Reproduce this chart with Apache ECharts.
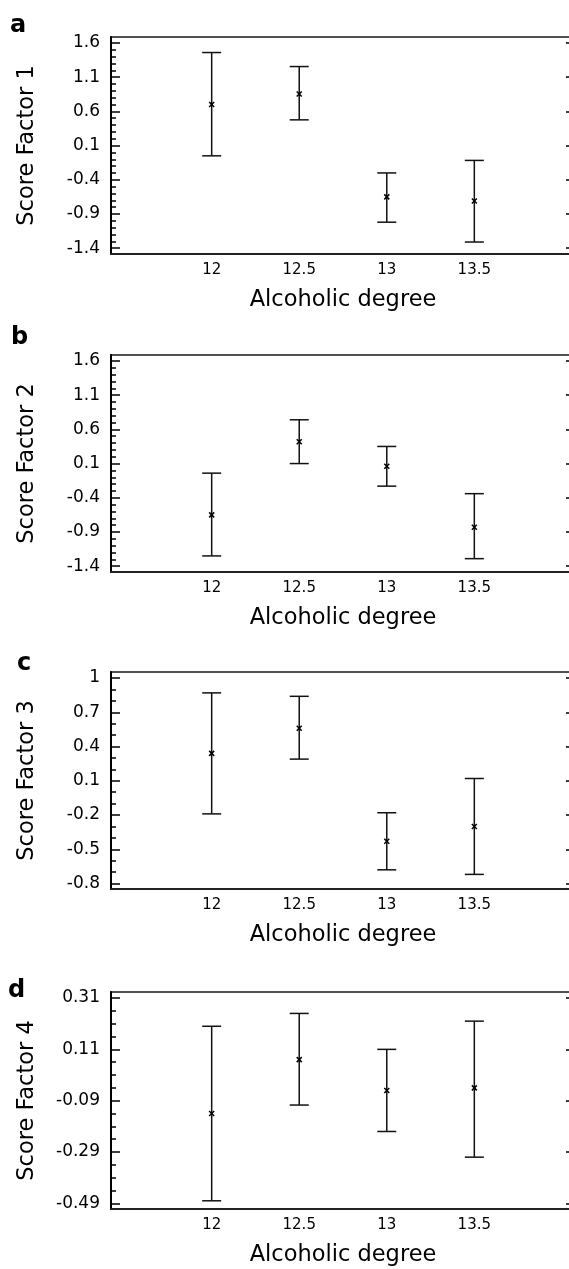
<!DOCTYPE html>
<html>
<head>
    <meta charset="utf-8">
    <title>Score factors vs alcoholic degree</title>
    <script src="https://cdn.jsdelivr.net/npm/echarts@6/dist/echarts.min.js"></script>
    <style>
        html, body { margin: 0; padding: 0; background: #fff; }
        #main { width: 569px; height: 1269px; }
    </style>
</head>
<body>
<div id="main"></div>
<script>
    // data
    var degrees = [12, 12.5, 13, 13.5];
    var xTicks = [12, 12.5, 13, 13.5];

    var f1Mean = [0.70, 0.855, -0.65, -0.71];
    var f1Low  = [-0.05, 0.476, -1.02, -1.31];
    var f1High = [1.46, 1.255, -0.30, -0.117];
    var f1Ticks = [-1.4, -0.9, -0.4, 0.1, 0.6, 1.1, 1.6];

    var f2Mean = [-0.65, 0.42, 0.06, -0.83];
    var f2Low  = [-1.25, 0.10, -0.23, -1.29];
    var f2High = [-0.04, 0.74, 0.35, -0.34];
    var f2Ticks = [-1.4, -0.9, -0.4, 0.1, 0.6, 1.1, 1.6];

    var f3Mean = [0.34, 0.56, -0.43, -0.30];
    var f3Low  = [-0.19, 0.29, -0.68, -0.72];
    var f3High = [0.87, 0.84, -0.18, 0.12];
    var f3Ticks = [-0.8, -0.5, -0.2, 0.1, 0.4, 0.7, 1];

    var f4Mean = [-0.14, 0.07, -0.05, -0.04];
    var f4Low  = [-0.48, -0.107, -0.21, -0.31];
    var f4High = [0.20, 0.25, 0.11, 0.22];
    var f4Ticks = [-0.49, -0.29, -0.09, 0.11, 0.31];

    var font = 'DejaVu Sans';

    // panel layout
    var panels = [
        {letter: 'a', lx: 10, ly: 25, top: 37, min: -1.485, max: 1.687, minorStep: 0.1, name: 'Score Factor 1', mean: f1Mean, low: f1Low, high: f1High, ticks: f1Ticks},
        {letter: 'b', lx: 11, ly: 337, top: 355, min: -1.485, max: 1.687, minorStep: 0.1, name: 'Score Factor 2', mean: f2Mean, low: f2Low, high: f2High, ticks: f2Ticks},
        {letter: 'c', lx: 17, ly: 663, top: 672, min: -0.848, max: 1.053, minorStep: 0.1, name: 'Score Factor 3', mean: f3Mean, low: f3Low, high: f3High, ticks: f3Ticks},
        {letter: 'd', lx: 8, ly: 990, top: 992, min: -0.512, max: 0.3335, minorStep: 0.05, name: 'Score Factor 4', mean: f4Mean, low: f4Low, high: f4High, ticks: f4Ticks}
    ];

    function fmt(v) {
        return String(Math.round(v * 100) / 100);
    }

    function minorTicks(ticks, step) {
        var out = [];
        var a = ticks[0], b = ticks[ticks.length - 1];
        var n = Math.round((b - a) / step);
        for (var i = 0; i <= n; i++) {
            out.push(Math.round((a + i * step) * 1000) / 1000);
        }
        return out;
    }

    function renderErrorBar(params, api) {
        var lo = api.coord([api.value(0), api.value(1)]);
        var hi = api.coord([api.value(0), api.value(2)]);
        var m = api.coord([api.value(0), api.value(3)]);
        var cw = 9.5, s = 2.5;
        var st = {stroke: '#111', lineWidth: 1.5};
        return {
            type: 'group',
            children: [
                {type: 'line', shape: {x1: hi[0], y1: hi[1], x2: lo[0], y2: lo[1]}, style: st},
                {type: 'line', shape: {x1: hi[0] - cw, y1: hi[1], x2: hi[0] + cw, y2: hi[1]}, style: st},
                {type: 'line', shape: {x1: lo[0] - cw, y1: lo[1], x2: lo[0] + cw, y2: lo[1]}, style: st},
                {type: 'line', shape: {x1: m[0] - s, y1: m[1] - s, x2: m[0] + s, y2: m[1] + s}, style: {stroke: '#000', lineWidth: 1.5}},
                {type: 'line', shape: {x1: m[0] - s, y1: m[1] + s, x2: m[0] + s, y2: m[1] - s}, style: {stroke: '#000', lineWidth: 1.5}}
            ]
        };
    }

    var grids = [], xAxes = [], yAxes = [], series = [], graphics = [];

    panels.forEach(function (p, k) {
        grids.push({
            left: 111, right: -6, top: p.top, height: 217,
            outerBoundsMode: 'none', containLabel: false,
            show: true, borderColor: '#505050', borderWidth: 2, backgroundColor: 'transparent'
        });
        xAxes.push({
            type: 'value', gridIndex: k, min: 11.425, max: 14.075,
            name: 'Alcoholic degree', nameLocation: 'middle', nameGap: 35,
            nameTextStyle: {fontFamily: font, fontSize: 22.5, color: '#000'},
            axisLine: {onZero: false, lineStyle: {color: '#222', width: 2}},
            axisTick: {show: false},
            splitLine: {show: false},
            axisLabel: {customValues: xTicks, formatter: fmt, margin: 9, fontFamily: font, fontSize: 15, color: '#000'}
        });
        // major ticks + labels
        yAxes.push({
            type: 'value', gridIndex: k, position: 'left', min: p.min, max: p.max,
            name: p.name, nameLocation: 'middle', nameGap: 72,
            nameTextStyle: {fontFamily: font, fontSize: 22.5, color: '#000'},
            axisLine: {show: true, onZero: false, lineStyle: {color: '#000', width: 2}},
            axisTick: {show: true, inside: true, length: 9, customValues: p.ticks, lineStyle: {color: '#000', width: 1.5}},
            splitLine: {show: false},
            axisLabel: {customValues: p.ticks, formatter: fmt, margin: 11, fontFamily: font, fontSize: 17, color: '#000'}
        });
        // minor ticks
        yAxes.push({
            type: 'value', gridIndex: k, position: 'left', min: p.min, max: p.max,
            axisLine: {show: false},
            axisTick: {show: true, inside: true, length: 5, customValues: minorTicks(p.ticks, p.minorStep), lineStyle: {color: '#000', width: 1.5}},
            splitLine: {show: false},
            axisLabel: {show: false}
        });
        // right side ticks
        yAxes.push({
            type: 'value', gridIndex: k, position: 'right', min: p.min, max: p.max,
            axisLine: {show: true, onZero: false, lineStyle: {color: '#000', width: 2}},
            axisTick: {show: true, inside: true, length: 9, customValues: p.ticks, lineStyle: {color: '#000', width: 1.5}},
            splitLine: {show: false},
            axisLabel: {show: false}
        });

        var rows = degrees.map(function (d, i) {
            return [d, p.low[i], p.high[i], p.mean[i]];
        });
        series.push({
            type: 'custom',
            xAxisIndex: k,
            yAxisIndex: k * 3,
            renderItem: renderErrorBar,
            encode: {x: 0, y: [1, 2, 3]},
            data: rows,
            silent: true
        });

        graphics.push({
            type: 'text', left: p.lx, top: p.ly - 11,
            style: {text: p.letter, fontFamily: font, fontWeight: 'bold', fontSize: 24, fill: '#000'}
        });
    });

    var myChart = echarts.init(document.getElementById('main'), null, {renderer: 'canvas'});
    myChart.setOption({
        animation: false,
        backgroundColor: '#fff',
        textStyle: {fontFamily: font},
        grid: grids,
        xAxis: xAxes,
        yAxis: yAxes,
        series: series,
        graphic: graphics
    });
</script>
</body>
</html>
